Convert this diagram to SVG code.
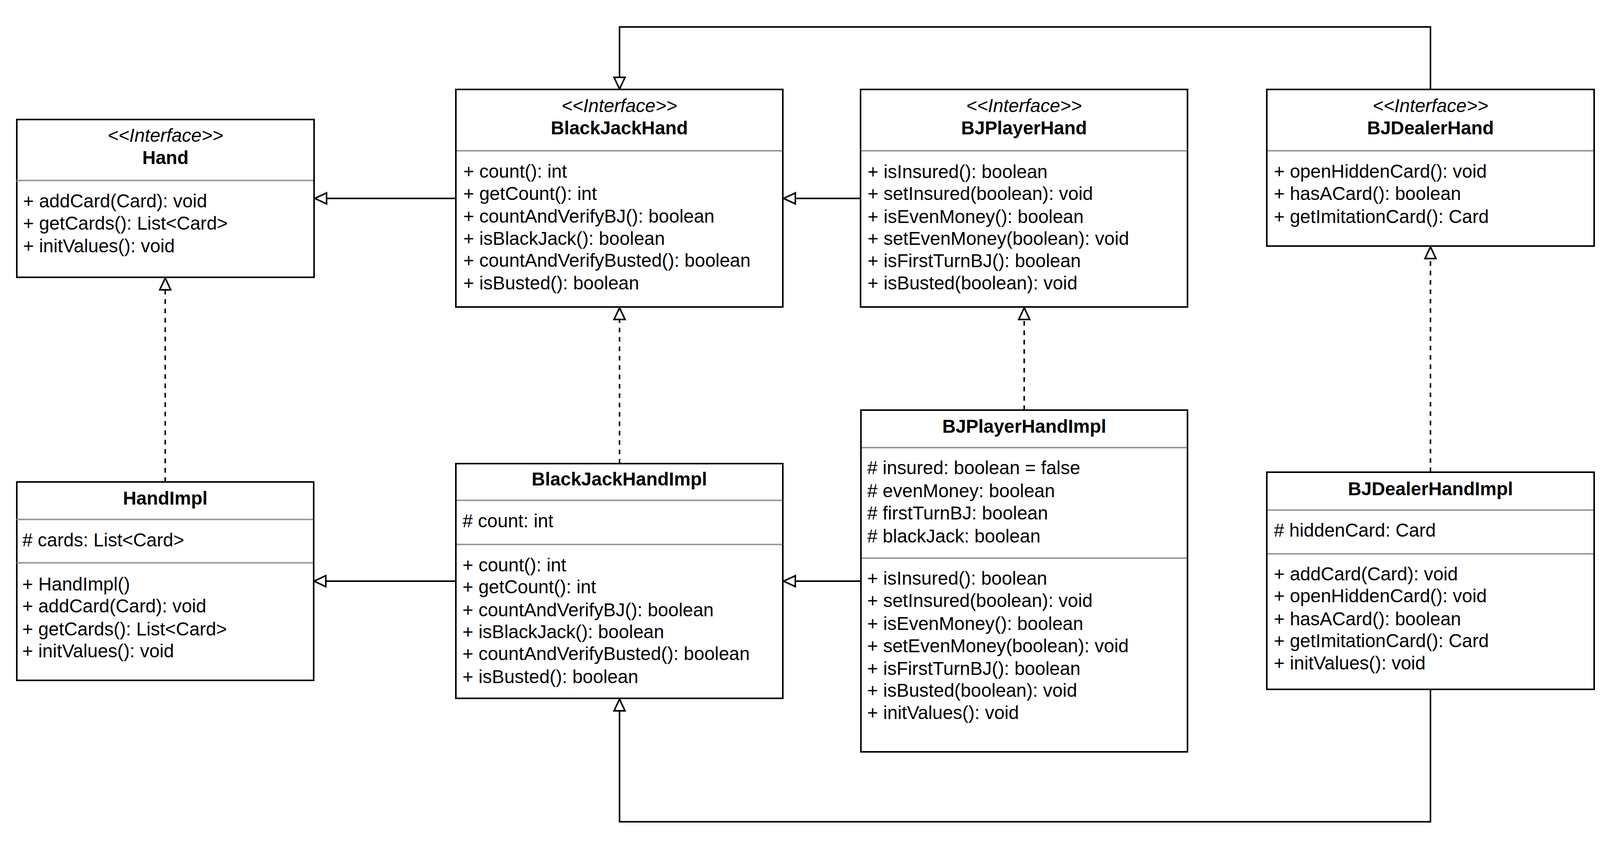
<svg xmlns="http://www.w3.org/2000/svg" width="4124" height="2184" viewBox="0 0 4124 2184">
<style>
.box{fill:#fff;stroke:#000;stroke-width:4}
.div{stroke:#9a9a9a;stroke-width:4}
text{font-family:"Liberation Sans",Arial,sans-serif;font-size:47.5px;fill:#000}
.st{font-style:italic;text-anchor:middle}
.nm{font-weight:bold;text-anchor:middle}
.edge{fill:none;stroke:#000;stroke-width:4}
.dash{stroke-dasharray:12 12}
</style>
<defs>
<marker id="tri" markerUnits="userSpaceOnUse" markerWidth="40" markerHeight="40" refX="34" refY="18" orient="auto" overflow="visible">
<path d="M34,18 L4,4 L4,32 Z" fill="#fff" stroke="#000" stroke-width="4" stroke-dasharray="none"/>
</marker>
</defs>
<rect width="4124" height="2184" fill="#fff"/>

<g id="connectors">
<path class="edge" d="M1167,508 H806" marker-end="url(#tri)"/>
<path class="edge" d="M2203,508 H2006" marker-end="url(#tri)"/>
<path class="edge" d="M3662,230 V69 H1586 V228" marker-end="url(#tri)"/>
<path class="edge dash" d="M423,1234 V712" marker-end="url(#tri)"/>
<path class="edge dash" d="M1586,1187 V788" marker-end="url(#tri)"/>
<path class="edge dash" d="M2622,1050 V788" marker-end="url(#tri)"/>
<path class="edge dash" d="M3662,1209 V632" marker-end="url(#tri)"/>
<path class="edge" d="M1167,1488 H804" marker-end="url(#tri)"/>
<path class="edge" d="M2204,1488 H2006" marker-end="url(#tri)"/>
<path class="edge" d="M3662,1765 V2104 H1586 V1790" marker-end="url(#tri)"/>
</g>

<g id="Hand">
<rect class="box" x="43" y="306" width="761" height="404"/>
<line class="div" x1="43" y1="462" x2="802" y2="462"/>
<text class="st" x="423.5" y="363">&lt;&lt;Interface&gt;&gt;</text>
<text class="nm" x="423.5" y="420">Hand</text>
<text x="59" y="531">+ addCard(Card): void</text>
<text x="59" y="588">+ getCards(): List&lt;Card&gt;</text>
<text x="59" y="646">+ initValues(): void</text>
</g>

<g id="BlackJackHand">
<rect class="box" x="1167" y="229" width="837" height="557"/>
<line class="div" x1="1169" y1="386" x2="2002" y2="386"/>
<text class="st" x="1585.5" y="287">&lt;&lt;Interface&gt;&gt;</text>
<text class="nm" x="1585.5" y="344">BlackJackHand</text>
<text x="1186" y="455">+ count(): int</text>
<text x="1186" y="512">+ getCount(): int</text>
<text x="1186" y="570">+ countAndVerifyBJ(): boolean</text>
<text x="1186" y="627">+ isBlackJack(): boolean</text>
<text x="1186" y="683">+ countAndVerifyBusted(): boolean</text>
<text x="1186" y="741">+ isBusted(): boolean</text>
</g>

<g id="BJPlayerHand">
<rect class="box" x="2203" y="229" width="837" height="557"/>
<line class="div" x1="2205" y1="386" x2="3038" y2="386"/>
<text class="st" x="2621.5" y="287">&lt;&lt;Interface&gt;&gt;</text>
<text class="nm" x="2621.5" y="344">BJPlayerHand</text>
<text x="2221" y="456">+ isInsured(): boolean</text>
<text x="2221" y="512">+ setInsured(boolean): void</text>
<text x="2221" y="571">+ isEvenMoney(): boolean</text>
<text x="2221" y="627">+ setEvenMoney(boolean): void</text>
<text x="2221" y="684">+ isFirstTurnBJ(): boolean</text>
<text x="2221" y="741">+ isBusted(boolean): void</text>
</g>

<g id="BJDealerHand">
<rect class="box" x="3243" y="229" width="838" height="401"/>
<line class="div" x1="3245" y1="386" x2="4079" y2="386"/>
<text class="st" x="3662" y="287">&lt;&lt;Interface&gt;&gt;</text>
<text class="nm" x="3662" y="344">BJDealerHand</text>
<text x="3261" y="455">+ openHiddenCard(): void</text>
<text x="3261" y="512">+ hasACard(): boolean</text>
<text x="3261" y="571">+ getImitationCard(): Card</text>
</g>

<g id="HandImpl">
<rect class="box" x="43" y="1234" width="760" height="508"/>
<line class="div" x1="43" y1="1330" x2="801" y2="1330"/>
<line class="div" x1="43" y1="1441" x2="801" y2="1441"/>
<text class="nm" x="423" y="1292">HandImpl</text>
<text x="57" y="1399"># cards: List&lt;Card&gt;</text>
<text x="57" y="1512">+ HandImpl()</text>
<text x="57" y="1568">+ addCard(Card): void</text>
<text x="57" y="1627">+ getCards(): List&lt;Card&gt;</text>
<text x="57" y="1683">+ initValues(): void</text>
</g>

<g id="BlackJackHandImpl">
<rect class="box" x="1167" y="1187" width="837" height="601"/>
<line class="div" x1="1169" y1="1281" x2="2002" y2="1281"/>
<line class="div" x1="1169" y1="1394" x2="2002" y2="1394"/>
<text class="nm" x="1585.5" y="1243">BlackJackHandImpl</text>
<text x="1184" y="1350"># count: int</text>
<text x="1184" y="1463">+ count(): int</text>
<text x="1184" y="1519">+ getCount(): int</text>
<text x="1184" y="1578">+ countAndVerifyBJ(): boolean</text>
<text x="1184" y="1634">+ isBlackJack(): boolean</text>
<text x="1184" y="1690">+ countAndVerifyBusted(): boolean</text>
<text x="1184" y="1749">+ isBusted(): boolean</text>
</g>

<g id="BJPlayerHandImpl">
<rect class="box" x="2204" y="1050" width="836" height="875"/>
<line class="div" x1="2206" y1="1146" x2="3038" y2="1146"/>
<line class="div" x1="2206" y1="1429" x2="3038" y2="1429"/>
<text class="nm" x="2622" y="1108">BJPlayerHandImpl</text>
<text x="2220" y="1214"># insured: boolean = false</text>
<text x="2220" y="1273"># evenMoney: boolean</text>
<text x="2220" y="1330"># firstTurnBJ: boolean</text>
<text x="2220" y="1389"># blackJack: boolean</text>
<text x="2220" y="1497">+ isInsured(): boolean</text>
<text x="2220" y="1554">+ setInsured(boolean): void</text>
<text x="2220" y="1613">+ isEvenMoney(): boolean</text>
<text x="2220" y="1670">+ setEvenMoney(boolean): void</text>
<text x="2220" y="1728">+ isFirstTurnBJ(): boolean</text>
<text x="2220" y="1784">+ isBusted(boolean): void</text>
<text x="2220" y="1841">+ initValues(): void</text>
</g>

<g id="BJDealerHandImpl">
<rect class="box" x="3243" y="1209" width="838" height="556"/>
<line class="div" x1="3245" y1="1306" x2="4079" y2="1306"/>
<line class="div" x1="3245" y1="1418" x2="4079" y2="1418"/>
<text class="nm" x="3662" y="1268">BJDealerHandImpl</text>
<text x="3261" y="1374"># hiddenCard: Card</text>
<text x="3261" y="1486">+ addCard(Card): void</text>
<text x="3261" y="1542">+ openHiddenCard(): void</text>
<text x="3261" y="1601">+ hasACard(): boolean</text>
<text x="3261" y="1657">+ getImitationCard(): Card</text>
<text x="3261" y="1714">+ initValues(): void</text>
</g>
</svg>
